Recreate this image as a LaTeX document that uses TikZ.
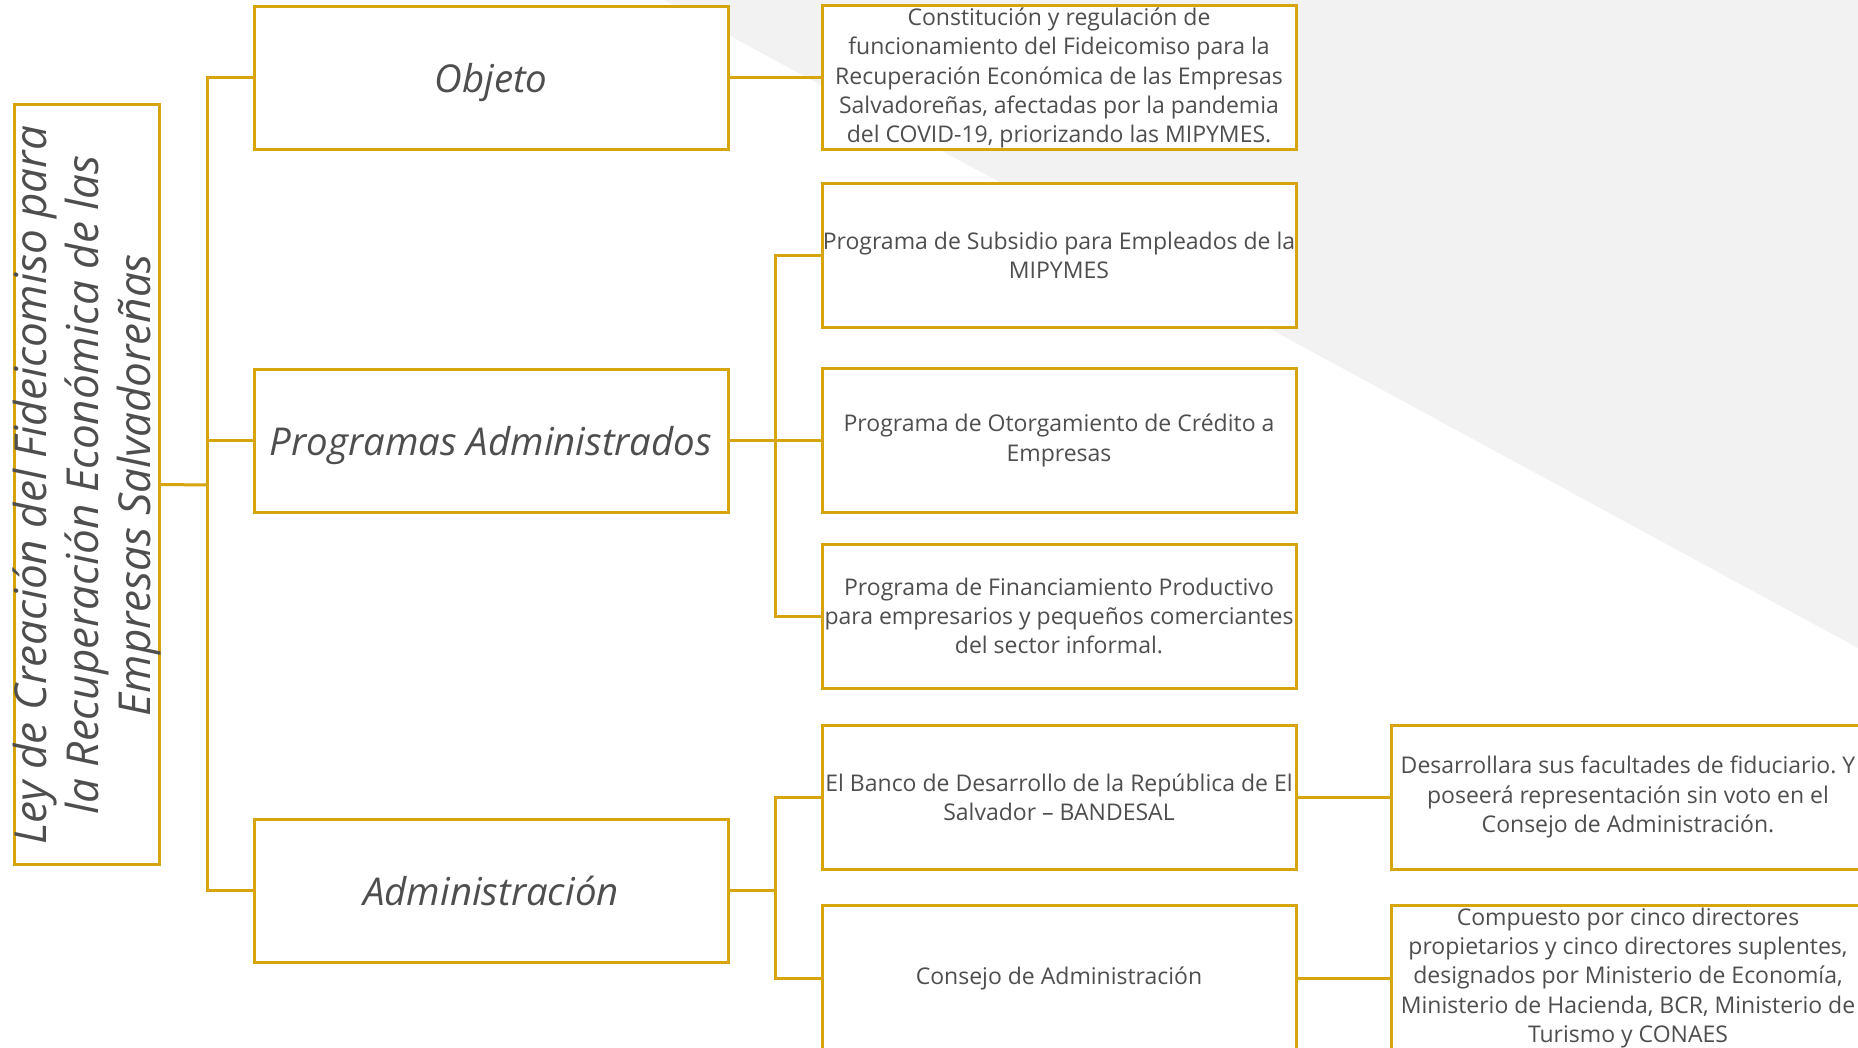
\documentclass[tikz,border=0pt]{standalone}
\usepackage{fontspec}
\setmainfont{Open Sans}
\frenchspacing
\definecolor{gold}{RGB}{214,164,12}
\definecolor{txt}{RGB}{78,78,78}
\definecolor{bggray}{RGB}{242,242,242}
\begin{document}
\begin{tikzpicture}[x=0.5pt,y=-0.5pt,
  box/.style={draw=gold,line width=1.5pt,fill=white,rectangle,inner sep=0pt,align=center,text=txt,
    minimum width=237pt},
  body/.style={box,minimum height=72pt,font=\fontsize{11.5}{14.6}\selectfont},
  mid/.style={box,minimum height=71.5pt,text height=16pt,text depth=1pt,font=\fontsize{19.2}{22}\selectfont\itshape},
  conn/.style={draw=gold,line width=1.5pt}]
\clip (0,0) rectangle (1858,1048);
\fill[white] (0,0) rectangle (1858,1048);
\fill[bggray] (664,0) -- (1858,0) -- (1858,648) -- cycle;

\node[box,minimum width=72.5pt,minimum height=379.5pt] (L) at (86.5,484.5) {};
\node[rotate=90,align=center,text=txt,font=\fontsize{22}{25.8}\selectfont\itshape] (Lt) at (87,485)
  {Ley de Creación del Fideicomiso para\\la Recuperación Económica de las\\Empresas Salvadoreñas};

\node[mid] (O) at (491,78) {Objeto};
\node[mid] (P) at (491,440.5) {Programas Administrados};
\node[mid] (A) at (491,890.5) {Administración};

\node[body] (C1) at (1059,78) {Constitución y regulación de\\funcionamiento del Fideicomiso para la\\Recuperación Económica de las Empresas\\Salvadoreñas, afectadas por la pandemia\\del COVID-19, priorizando las MIPYMES.};
\node[body] (S) at (1059,255.5) {Programa de Subsidio para Empleados de la\\MIPYMES};
\node[body] (Ot) at (1059,440.5) {Programa de Otorgamiento de Crédito a\\Empresas};
\node[body] (F) at (1059,616) {Programa de Financiamiento Productivo\\para empresarios y pequeños comerciantes\\del sector informal.};
\node[body] (B) at (1059,797) {El Banco de Desarrollo de la República de El\\Salvador – BANDESAL};
\node[body,minimum height=73pt] (Co) at (1059,978) {Consejo de Administración};
\node[body] (D) at (1628,797) {Desarrollara sus facultades de fiduciario. Y\\poseerá representación sin voto en el\\Consejo de Administración.};
\node[body,minimum height=73pt] (Cp) at (1628,978) {Compuesto por cinco directores\\propietarios y cinco directores suplentes,\\designados por Ministerio de Economía,\\Ministerio de Hacienda, BCR, Ministerio de\\Turismo y CONAES};

\coordinate (j1) at (207,485);
\coordinate (j2) at (775,440.5);
\coordinate (j3) at (775,890.5);
\draw[conn] (L.east) -- (j1);
\draw[conn] (O.west) -| (j1);
\draw[conn] (P.west) -| (j1);
\draw[conn] (A.west) -| (j1);
\draw[conn] (O.east) -- (C1.west);
\draw[conn] (P.east) -- (j2);
\draw[conn] (S.west) -| (j2);
\draw[conn] (Ot.west) -- (j2);
\draw[conn] (F.west) -| (j2);
\draw[conn] (A.east) -- (j3);
\draw[conn] (B.west) -| (j3);
\draw[conn] (Co.west) -| (j3);
\draw[conn] (B.east) -- (D.west);
\draw[conn] (Co.east) -- (Cp.west);
\end{tikzpicture}
\end{document}
